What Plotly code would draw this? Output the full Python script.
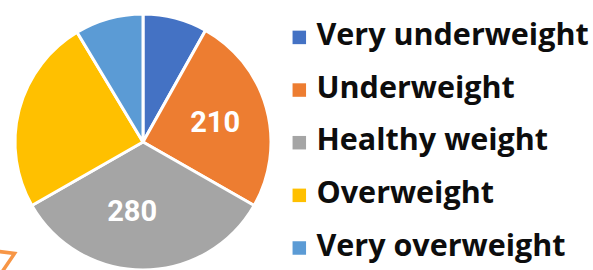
import plotly.graph_objects as go

# ---- data ----
categories = ["Very underweight", "Underweight", "Healthy weight", "Overweight", "Very overweight"]
values = [68, 210, 280, 206, 72]
shown_labels = [False, True, True, False, False]
colors = ["#4472C4", "#ED7D31", "#A5A5A5", "#FFC000", "#5B9BD5"]

W, H = 593, 270
MT = 14
plot_h = H - MT
R = plot_h / 2
CX = 143.0

NB = "\u00a0"
texttemplate = ["", "%{value}", "%{value}" + NB * 3, "", ""]
texttemplate = [t if s else "" for t, s in zip(texttemplate, shown_labels)]

fig = go.Figure()
fig.add_trace(go.Pie(
    labels=categories,
    values=values,
    sort=False,
    direction="clockwise",
    rotation=0,
    marker=dict(colors=colors, line=dict(color="white", width=3)),
    texttemplate=texttemplate,
    textposition="inside",
    insidetextorientation="horizontal",
    textfont=dict(family="Roboto", size=29, color="white", weight="bold"),
    domain=dict(x=[(CX - R) / W, (CX + R) / W], y=[0, 1]),
    showlegend=False,
    hoverinfo="label+value",
))

# ---- legend drawn as a categorical list ----
n = len(categories)
idx = list(range(n))
fig.add_trace(go.Scatter(
    x=[299.3] * n, y=idx, mode="markers",
    marker=dict(symbol="square", size=13.5, color=colors, line=dict(width=0)),
    showlegend=False, hoverinfo="skip",
))
fig.add_trace(go.Scatter(
    x=[316.5] * n, y=idx, mode="text", text=categories,
    textposition="middle right",
    textfont=dict(family="Open Sans", size=30.5, color="#0d0d0d", weight="bold"),
    showlegend=False, hoverinfo="skip",
))

first_c = 37.4
step = 52.65
top_val = -(first_c - MT) / step
bot_val = top_val + plot_h / step

fig.update_layout(
    width=W, height=H,
    margin=dict(l=0, r=0, t=MT, b=0),
    paper_bgcolor="white", plot_bgcolor="rgba(0,0,0,0)",
    xaxis=dict(range=[0, W], visible=False, fixedrange=True),
    yaxis=dict(range=[bot_val, top_val], visible=False, fixedrange=True),
    shapes=[dict(
        type="path", xref="paper", yref="paper",
        path="M {:.4f},{:.4f} L {:.4f},{:.4f} L {:.4f},{:.4f}".format(
            -5 / W, (H - 251) / plot_h, 14.5 / W, (H - 253.5) / plot_h, 2 / W, (H - 272) / plot_h),
        line=dict(color="#F79646", width=3.5),
    )],
)

fig.write_html(
    "out.html",
    config={"displayModeBar": False},
    post_script="document.body.style.margin='0';document.body.style.overflow='hidden';",
)
